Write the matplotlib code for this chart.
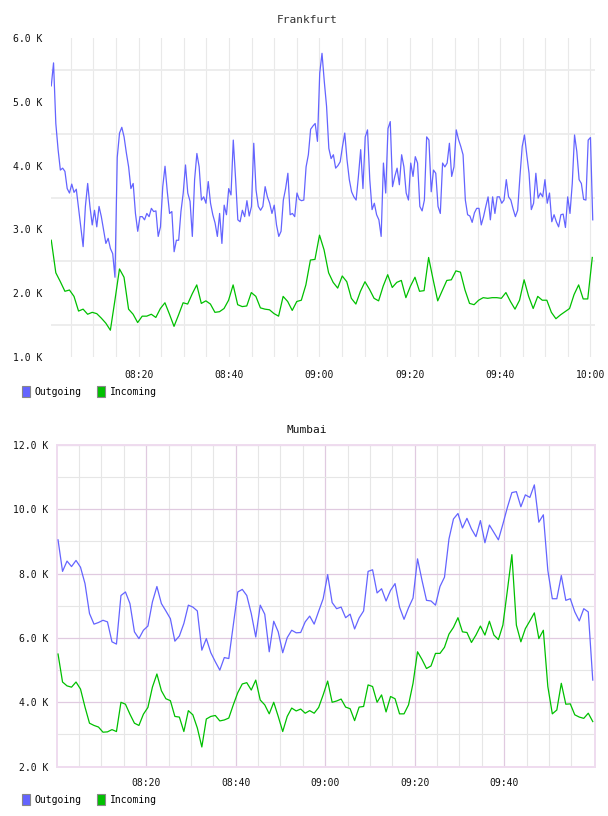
import numpy as np
import matplotlib
matplotlib.use('Agg')
import matplotlib.pyplot as plt
from matplotlib.patches import Patch

# ---- data (values in thousands) ----
frankfurt_out = [
    5.25, 5.61, 4.66, 4.25, 3.93, 3.96, 3.91, 3.64, 3.57, 3.71, 3.58, 3.63, 3.33, 3.02, 2.73, 3.36,
    3.72, 3.36, 3.07, 3.30, 3.04, 3.36, 3.20, 2.99, 2.78, 2.86, 2.70, 2.62, 2.25, 4.13, 4.51, 4.60,
    4.45, 4.20, 3.98, 3.64, 3.72, 3.25, 2.97, 3.20, 3.20, 3.15, 3.25, 3.20, 3.33, 3.28, 3.29, 2.89,
    3.04, 3.67, 3.99, 3.59, 3.25, 3.28, 2.65, 2.83, 2.83, 3.28, 3.57, 4.01, 3.57, 3.44, 2.89, 3.78,
    4.19, 3.98, 3.46, 3.51, 3.41, 3.75, 3.41, 3.23, 3.10, 2.89, 3.25, 2.78, 3.38, 3.23, 3.64, 3.54,
    4.40, 3.80, 3.15, 3.12, 3.30, 3.20, 3.45, 3.21, 3.36, 4.35, 3.62, 3.36, 3.30, 3.36, 3.67, 3.51,
    3.41, 3.25, 3.38, 3.07, 2.89, 2.97, 3.46, 3.64, 3.88, 3.23, 3.25, 3.20, 3.57, 3.47, 3.45, 3.46,
    3.98, 4.17, 4.57, 4.62, 4.66, 4.38, 5.45, 5.76, 5.32, 4.93, 4.27, 4.11, 4.17, 3.96, 4.00, 4.06,
    4.30, 4.51, 4.09, 3.78, 3.59, 3.51, 3.46, 3.83, 4.25, 3.64, 4.45, 4.56, 3.78, 3.31, 3.41, 3.23,
    3.15, 2.89, 4.04, 3.57, 4.58, 4.69, 3.67, 3.83, 3.96, 3.70, 4.17, 3.98, 3.57, 3.46, 4.04, 3.83,
    4.14, 4.04, 3.36, 3.29, 3.46, 4.45, 4.40, 3.59, 3.93, 3.88, 3.36, 3.25, 4.04, 3.98, 4.04, 4.35,
    3.83, 3.98, 4.56, 4.41, 4.30, 4.17, 3.46, 3.23, 3.21, 3.11, 3.26, 3.33, 3.33, 3.07, 3.20, 3.36,
    3.51, 3.15, 3.51, 3.25, 3.51, 3.51, 3.41, 3.46, 3.78, 3.51, 3.46, 3.32, 3.20, 3.30, 3.83, 4.30,
    4.48, 4.17, 3.88, 3.31, 3.41, 3.88, 3.49, 3.57, 3.51, 3.78, 3.41, 3.57, 3.12, 3.23, 3.12, 3.04,
    3.23, 3.24, 3.03, 3.51, 3.25, 3.72, 4.48, 4.22, 3.78, 3.72, 3.47, 3.46, 4.40, 4.44, 3.15,
]
frankfurt_in = [
    2.83, 2.32, 2.18, 2.03, 2.05, 1.95, 1.72, 1.75, 1.67, 1.70, 1.68, 1.61, 1.53, 1.42, 1.89, 2.38,
    2.25, 1.75, 1.67, 1.54, 1.64, 1.64, 1.67, 1.62, 1.76, 1.85, 1.67, 1.48, 1.66, 1.85, 1.83, 1.99,
    2.13, 1.84, 1.88, 1.83, 1.70, 1.71, 1.76, 1.89, 2.13, 1.82, 1.79, 1.80, 2.01, 1.95, 1.77, 1.75,
    1.74, 1.68, 1.64, 1.95, 1.87, 1.73, 1.87, 1.89, 2.13, 2.52, 2.53, 2.91, 2.68, 2.32, 2.17, 2.08,
    2.27, 2.18, 1.92, 1.83, 2.03, 2.18, 2.06, 1.92, 1.88, 2.11, 2.29, 2.09, 2.17, 2.20, 1.93, 2.11,
    2.25, 2.03, 2.04, 2.56, 2.21, 1.88, 2.04, 2.20, 2.21, 2.35, 2.33, 2.05, 1.84, 1.82, 1.89, 1.93,
    1.92, 1.93, 1.93, 1.92, 2.01, 1.87, 1.75, 1.89, 2.21, 1.95, 1.76, 1.95, 1.89, 1.89, 1.70, 1.60,
    1.66, 1.71, 1.76, 1.98, 2.13, 1.91, 1.91, 2.56,
]
mumbai_out = [
    9.05, 8.07, 8.39, 8.22, 8.41, 8.20, 7.69, 6.76, 6.43, 6.48, 6.55, 6.50, 5.88, 5.81, 7.32, 7.43,
    7.07, 6.19, 5.98, 6.24, 6.37, 7.12, 7.60, 7.07, 6.84, 6.60, 5.90, 6.06, 6.45, 7.02, 6.96, 6.84,
    5.62, 5.98, 5.54, 5.26, 5.00, 5.39, 5.36, 6.40, 7.43, 7.51, 7.32, 6.76, 6.03, 7.02, 6.74, 5.57,
    6.52, 6.19, 5.54, 6.01, 6.24, 6.16, 6.17, 6.50, 6.68, 6.43, 6.83, 7.22, 7.97, 7.10, 6.91, 6.96,
    6.63, 6.74, 6.28, 6.62, 6.84, 8.07, 8.12, 7.40, 7.53, 7.15, 7.48, 7.69, 6.96, 6.58, 6.94, 7.24,
    8.46, 7.79, 7.17, 7.15, 7.02, 7.60, 7.89, 9.08, 9.70, 9.87, 9.42, 9.72, 9.39, 9.15, 9.65, 8.96,
    9.51, 9.28, 9.05, 9.54, 10.06, 10.52, 10.55, 10.08, 10.45, 10.37, 10.76, 9.60, 9.83, 8.10, 7.22, 7.22,
    7.94, 7.17, 7.22, 6.81, 6.53, 6.91, 6.81, 4.69,
]
mumbai_in = [
    5.50, 4.63, 4.51, 4.47, 4.63, 4.41, 3.85, 3.35, 3.28, 3.23, 3.07, 3.08, 3.15, 3.09, 4.00, 3.94,
    3.63, 3.35, 3.28, 3.63, 3.84, 4.47, 4.88, 4.36, 4.11, 4.05, 3.56, 3.54, 3.09, 3.74, 3.61, 3.20,
    2.61, 3.48, 3.56, 3.59, 3.42, 3.45, 3.51, 3.92, 4.30, 4.57, 4.61, 4.38, 4.69, 4.07, 3.92, 3.64,
    4.00, 3.56, 3.09, 3.56, 3.82, 3.73, 3.79, 3.66, 3.74, 3.66, 3.84, 4.23, 4.66, 4.00, 4.04, 4.10,
    3.85, 3.80, 3.43, 3.85, 3.87, 4.54, 4.49, 4.00, 4.23, 3.70, 4.18, 4.11, 3.64, 3.64, 3.92, 4.59,
    5.57, 5.33, 5.05, 5.13, 5.52, 5.52, 5.71, 6.12, 6.33, 6.63, 6.19, 6.17, 5.86, 6.09, 6.37, 6.09,
    6.52, 6.09, 5.95, 6.40, 7.48, 8.59, 6.40, 5.88, 6.29, 6.53, 6.78, 5.98, 6.24, 4.49, 3.64, 3.76,
    4.59, 3.94, 3.95, 3.61, 3.54, 3.50, 3.66, 3.40,
]
frankfurt_ticks = ['08:20', '08:40', '09:00', '09:20', '09:40', '10:00']
mumbai_ticks = ['08:20', '08:40', '09:00', '09:20', '09:40']
series_names = ['Outgoing', 'Incoming']

OUT_COLOR = '#6464ff'
IN_COLOR = '#00c000'
FONT = 'DejaVu Sans Mono'
plt.rcParams['font.family'] = FONT


def k_label(v):
    return f'{v:.1f} K'


fig = plt.figure(figsize=(6.08, 8.16), dpi=100)

# ---------------- Frankfurt ----------------
ax1 = fig.add_axes([51 / 608, 1 - 357 / 816, 544 / 608, 319 / 816])
t_out = np.linspace(0.66, 120.5, len(frankfurt_out))   # minutes after 08:00
t_in = np.linspace(0.66, 120.4, len(frankfurt_in))
ax1.plot(t_out, frankfurt_out, color=OUT_COLOR, lw=0.9, zorder=3)
ax1.plot(t_in, frankfurt_in, color=IN_COLOR, lw=0.9, zorder=3)
ax1.set_xlim(0.6, 121.0)
ax1.set_ylim(1, 6)
ax1.set_xticks(np.arange(20, 121, 20))
ax1.set_xticklabels(frankfurt_ticks)
ax1.set_xticks(np.arange(5, 121, 5), minor=True)
ax1.set_yticks(np.arange(1, 6.1, 1))
ax1.set_yticklabels([k_label(v) for v in np.arange(1, 6.1, 1)])
ax1.set_yticks(np.arange(1.5, 6, 1), minor=True)
ax1.grid(axis='x', which='both', color='#e9e9e9', lw=0.8, zorder=0)
ax1.grid(axis='y', which='major', visible=False)
ax1.grid(axis='y', which='minor', color='#ececec', lw=1.3, zorder=0)
for s in ax1.spines.values():
    s.set_visible(False)
ax1.tick_params(axis='both', which='both', length=0, labelsize=7, colors='#111111')
ax1.tick_params(axis='x', pad=9)
ax1.tick_params(axis='y', pad=6)
fig.text(307 / 608, 1 - 20 / 816, 'Frankfurt', ha='center', va='center',
         fontsize=8, color='#333333')

# ---------------- Mumbai ----------------
ax2 = fig.add_axes([56.7 / 608, 1 - 766.6 / 816, 538.3 / 608, 321.6 / 816])
m_t = np.linspace(0.3, 119.8, len(mumbai_out))
ax2.plot(m_t, mumbai_out, color=OUT_COLOR, lw=0.9, zorder=3)
ax2.plot(m_t, mumbai_in, color=IN_COLOR, lw=0.9, zorder=3)
ax2.set_xlim(0, 120.3)
ax2.set_ylim(2, 12)
ax2.set_xticks(np.arange(20, 101, 20))
ax2.set_xticklabels(mumbai_ticks)
ax2.set_xticks(np.arange(5, 120, 5), minor=True)
ax2.set_yticks(np.arange(2, 12.1, 2))
ax2.set_yticklabels([k_label(v) for v in np.arange(2, 12.1, 2)])
ax2.set_yticks(np.arange(3, 12, 1), minor=True)
ax2.grid(which='minor', color='#e6e6e6', lw=0.8, zorder=0)
ax2.grid(which='major', color='#e0cae0', lw=0.9, zorder=1)
for s in ax2.spines.values():
    s.set_color('#efdcef')
    s.set_linewidth(1.4)
ax2.tick_params(axis='both', which='both', length=0, labelsize=7, colors='#111111')
ax2.tick_params(axis='x', pad=8)
ax2.tick_params(axis='y', pad=6)
fig.text(307 / 608, 1 - 430 / 816, 'Mumbai', ha='center', va='center',
         fontsize=8, color='#111111')

# ---------------- legends ----------------
handles = [Patch(facecolor=OUT_COLOR, edgecolor='#888888', lw=0.8),
           Patch(facecolor=IN_COLOR, edgecolor='#888888', lw=0.8)]
for ytop in (386, 794):
    fig.legend(handles, series_names, loc='upper left',
               bbox_to_anchor=(22 / 608, 1 - ytop / 816), ncol=2, frameon=False,
               handlelength=0.8, handleheight=1.3, handletextpad=0.5,
               columnspacing=1.6, borderpad=0, borderaxespad=0,
               prop={'family': FONT, 'size': 7})

fig.savefig('out.png', dpi=100, facecolor='white')
